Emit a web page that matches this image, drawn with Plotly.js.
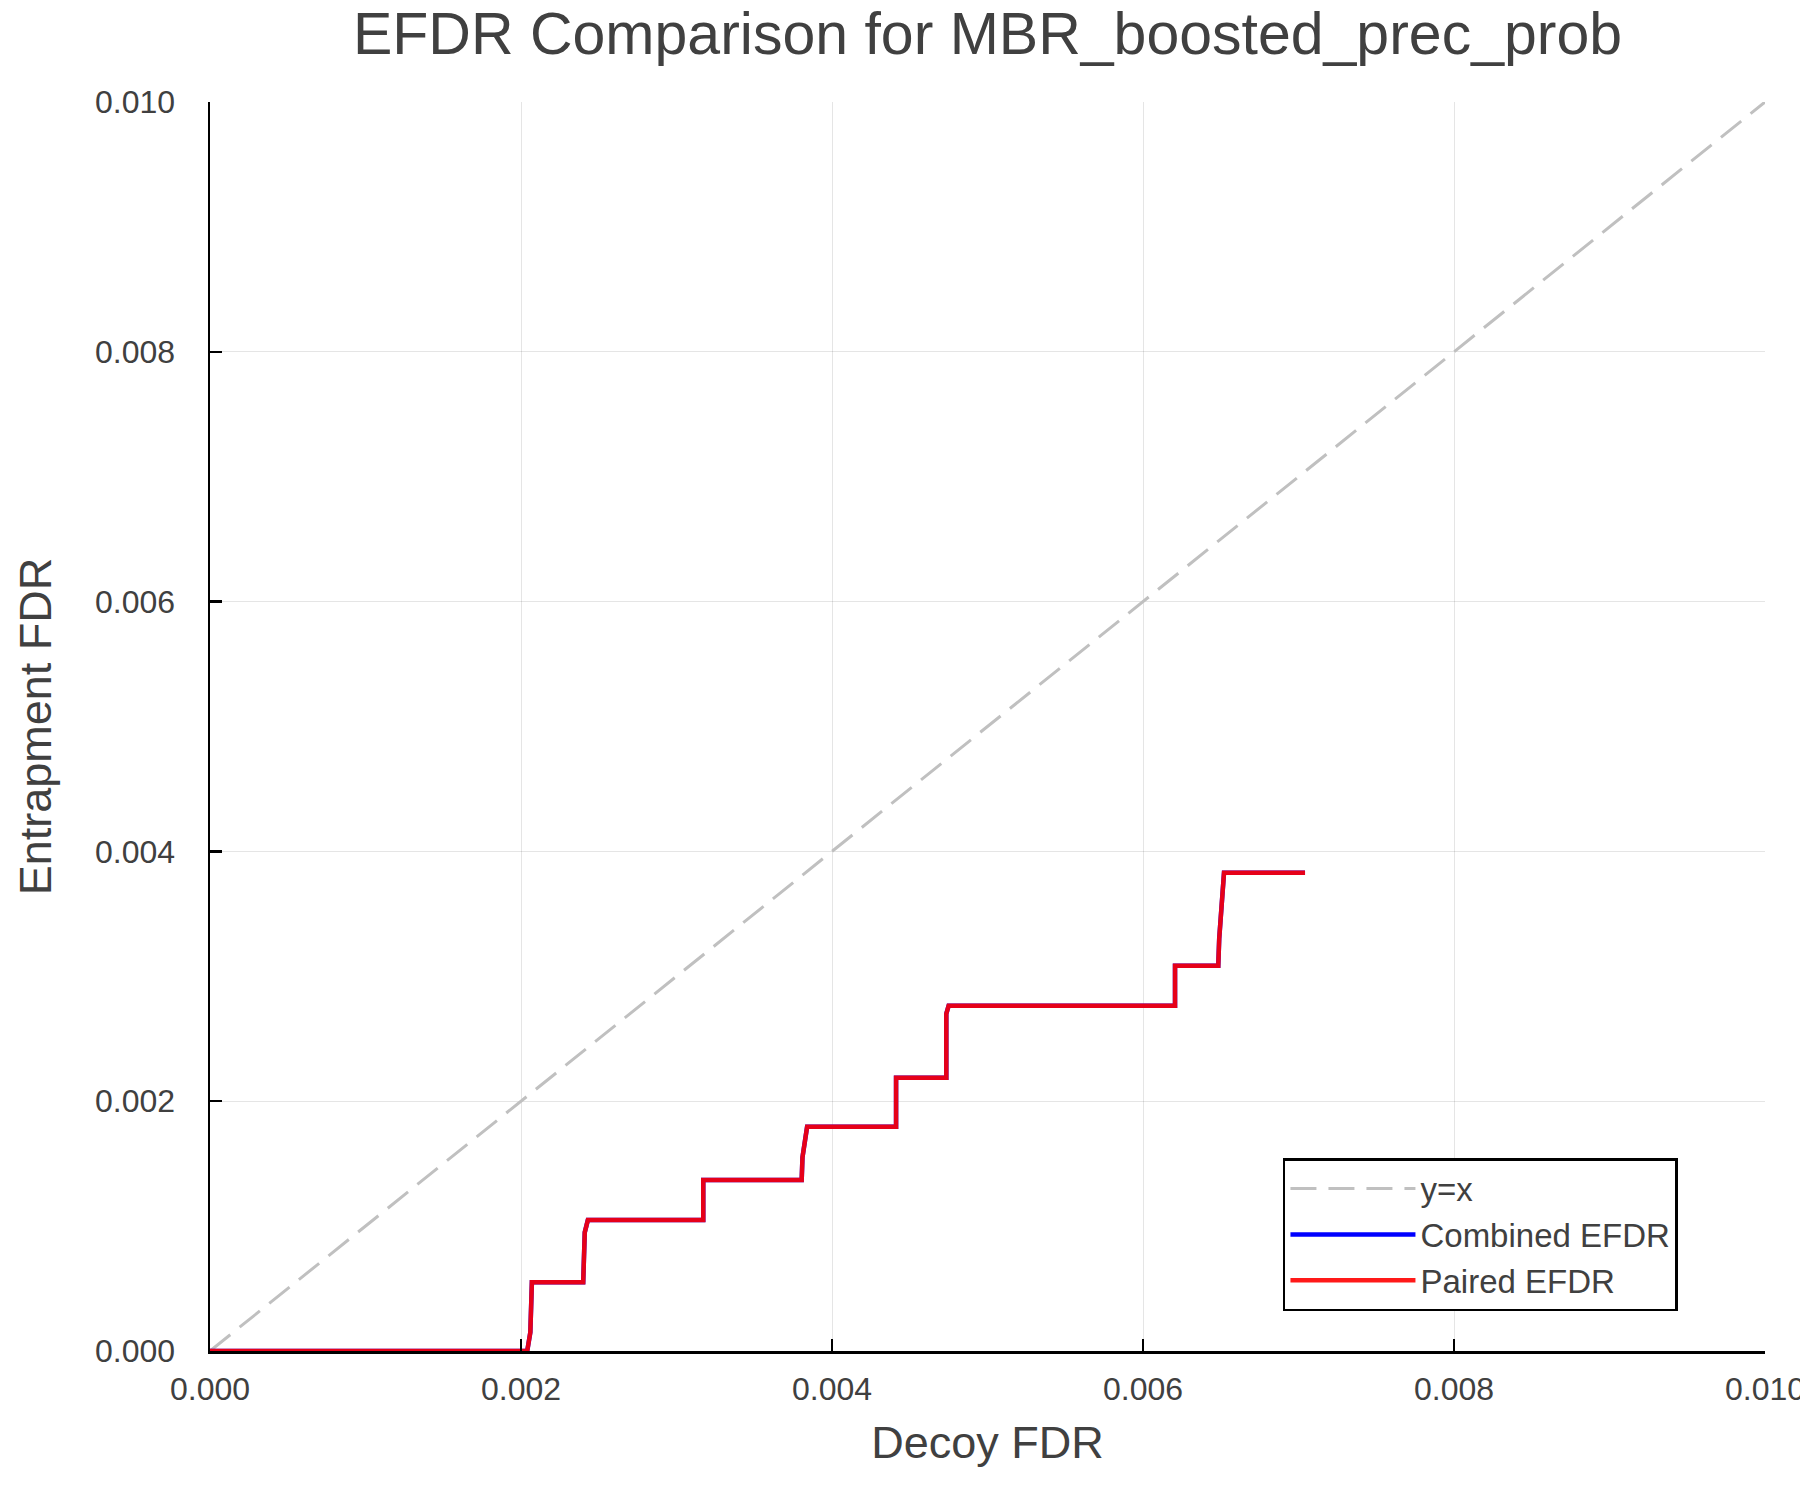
<!DOCTYPE html>
<html>
<head>
<meta charset="utf-8">
<script src="https://cdn.plot.ly/plotly-3.0.1.min.js"></script>
<style>
    html, body { margin: 0; padding: 0; background: #ffffff; }
    #plot { width: 1800px; height: 1500px; }
</style>
</head>
<body>
<div id="plot"></div>
<script>
// reference diagonal
const diagX = [0, 0.01];
const diagY = [0, 0.01];

// EFDR curves (vertices of the step path)
const decoyFdr = [
    0, 0.00204, 0.00206, 0.00207, 0.00240, 0.00241, 0.00243,
    0.003172, 0.003172, 0.003805, 0.00381, 0.00384,
    0.004412, 0.004412, 0.004735, 0.004735, 0.00475,
    0.006206, 0.006206, 0.006484, 0.00649, 0.006521, 0.007042
];
const combinedEfdr = [
    0, 0, 0.00015, 0.000551, 0.000551, 0.00095, 0.001048,
    0.001048, 0.001369, 0.001369, 0.00155, 0.001796,
    0.001796, 0.002188, 0.002188, 0.00270, 0.002765,
    0.002765, 0.003085, 0.003085, 0.00330, 0.00383, 0.00383
];
const pairedEfdr = [
    0, 0, 0.00015, 0.000551, 0.000551, 0.00095, 0.001048,
    0.001048, 0.001369, 0.001369, 0.00155, 0.001796,
    0.001796, 0.002188, 0.002188, 0.00270, 0.002765,
    0.002765, 0.003085, 0.003085, 0.00330, 0.00383, 0.00383
];

const tickVals = [0, 0.002, 0.004, 0.006, 0.008, 0.010];
const tickText = ["0.000", "0.002", "0.004", "0.006", "0.008", "0.010"];

const fontFamily = "'Liberation Sans', Helvetica, Arial, sans-serif";
const textColor = "#404040";

function axisStyle(titleText, standoff, labelGap){
    return {
        range: [0, 0.01],
        tickvals: tickVals,
        ticktext: tickText,
        ticks: "inside",
        ticklen: 12,
        tickwidth: 2.5,
        tickcolor: "#000000",
        ticklabelstandoff: labelGap,
        ticklabeloverflow: "allow",
        tickfont: { family: fontFamily, size: 32, color: textColor },
        showline: true,
        linecolor: "#000000",
        linewidth: 2.5,
        mirror: false,
        zeroline: false,
        showgrid: true,
        gridcolor: "rgba(0,0,0,0.1)",
        gridwidth: 1,
        automargin: false,
        title: {
            text: titleText,
            font: { family: fontFamily, size: 45, color: textColor },
            standoff: standoff
        }
    };
}

const traces = [
    {
        x: diagX,
        y: diagY,
        mode: "lines",
        name: "y=x",
        line: { color: "#c0c0c0", width: 3, dash: "26px,12px" }
    },
    {
        x: decoyFdr,
        y: combinedEfdr,
        mode: "lines",
        name: "Combined EFDR",
        line: { color: "#0000ff", width: 4.5 }
    },
    {
        x: decoyFdr,
        y: pairedEfdr,
        mode: "lines",
        name: "Paired EFDR",
        opacity: 0.9,
        line: { color: "#ff0000", width: 4.5 }
    }
];

const layout = {
    width: 1800,
    height: 1500,
    margin: { l: 210, r: 35, t: 102, b: 149 },
    paper_bgcolor: "#ffffff",
    plot_bgcolor: "#ffffff",
    font: { family: fontFamily, color: textColor },
    title: {
        text: "EFDR Comparison for MBR_boosted_prec_prob",
        font: { family: fontFamily, size: 59, color: textColor },
        x: 0.5,
        xref: "paper",
        xanchor: "center",
        y: 1 - 33 / 1500,
        yref: "container",
        yanchor: "middle"
    },
    xaxis: axisStyle("Decoy FDR", 21, 8),
    yaxis: axisStyle("Entrapment FDR", 30, 26),
    showlegend: true,
    legend: {
        x: 0.69,
        y: 0.1545,
        xanchor: "left",
        yanchor: "top",
        bgcolor: "#ffffff",
        bordercolor: "#000000",
        borderwidth: 2.5,
        itemwidth: 125,
        entrywidth: 400,
        entrywidthmode: "pixels",
        font: { family: fontFamily, size: 33, color: textColor }
    }
};

Plotly.newPlot("plot", traces, layout, { displayModeBar: false, staticPlot: true });
</script>
</body>
</html>
